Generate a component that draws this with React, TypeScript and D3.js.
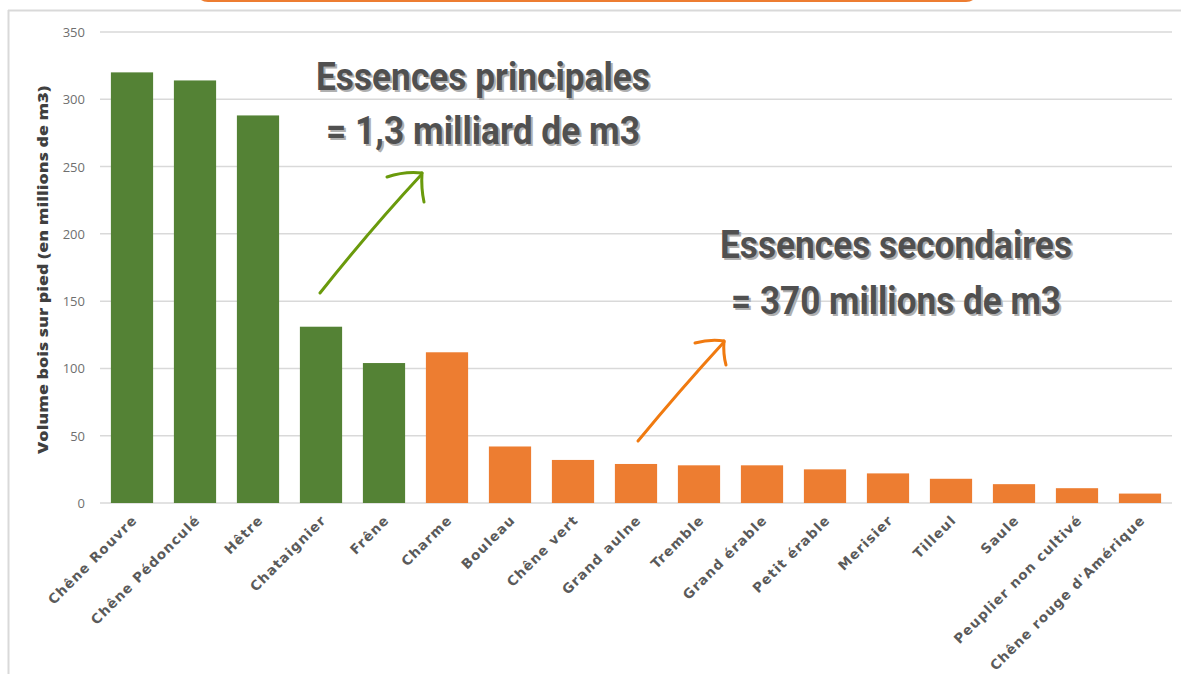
import React from "react";
import * as d3 from "d3";

const categories = [
  "Chêne Rouvre", "Chêne Pédonculé", "Hêtre", "Chataignier", "Frêne",
  "Charme", "Bouleau", "Chêne vert", "Grand aulne", "Tremble", "Grand érable",
  "Petit érable", "Merisier", "Tilleul", "Saule", "Peuplier non cultivé",
  "Chêne rouge d'Amérique",
];
const volumes = [320, 314, 288, 131, 104, 112, 42, 32, 29, 28, 28, 25, 22, 18, 14, 11, 7];
const groups = ["p", "p", "p", "p", "p", "s", "s", "s", "s", "s", "s", "s", "s", "s", "s", "s", "s"];
const yTicks = [0, 50, 100, 150, 200, 250, 300, 350];
const yTitle = "Volume bois sur pied (en millions de m3)";
const principalLines = ["Essences principales", "= 1,3 milliard de m3"];
const secondaryLines = ["Essences secondaires", "= 370 millions de m3"];

const W = 1181, H = 674;
const GREEN = "#548235";
const ORANGE = "#ed7d31";

export default function App() {
  const x = d3.scaleBand<string>().domain(categories).range([100.5, 1171.5]).paddingInner(0.33).paddingOuter(0.165);
  const y = d3.scaleLinear().domain([0, 350]).range([503, 32]);
  const bw = x.bandwidth();

  const annot = (lines: string[], cx: number, ys: number[], widths: number[], key: string) =>
    lines.map((t, i) => (
      <g key={key + i}>
        <text x={cx + 2} y={ys[i] + 2} textAnchor="middle" fontFamily="Roboto" fontWeight={700} fontSize={38}
          fill="#b0b0b0" textLength={widths[i]} lengthAdjust="spacingAndGlyphs">{t}</text>
        <text x={cx} y={ys[i]} textAnchor="middle" fontFamily="Roboto" fontWeight={700} fontSize={38}
          fill="#505050" textLength={widths[i]} lengthAdjust="spacingAndGlyphs">{t}</text>
      </g>
    ));

  return (
    <svg width={W} height={H} style={{ position: "absolute", left: 0, top: 0, background: "#fff" }}>
      {/* top orange banner edge */}
      <rect x={198} y={-12} width={778} height={14} rx={10} fill={ORANGE} />
      {/* frame */}
      <line x1={8} y1={10.5} x2={W} y2={10.5} stroke="#d9d9d9" strokeWidth={2} />
      <line x1={8.5} y1={10} x2={8.5} y2={H} stroke="#d9d9d9" strokeWidth={2} />

      {/* gridlines */}
      {yTicks.map((t) => (
        <line key={"g" + t} x1={100} x2={1172} y1={y(t)} y2={y(t)} stroke="#d9d9d9" strokeWidth={1.5} />
      ))}
      {yTicks.map((t) => (
        <text key={"yt" + t} x={85} y={y(t) + 5} textAnchor="end" fontFamily="Open Sans" fontSize={13} fill="#6f6f6f">{t}</text>
      ))}
      <text transform={`translate(48,270) rotate(-90)`} textAnchor="middle" fontFamily="Open Sans" fontWeight={800}
        fontSize={14.5} fill="#404040" textLength={368} lengthAdjust="spacingAndGlyphs">{yTitle}</text>

      {/* bars */}
      {categories.map((c, i) => (
        <rect key={c} x={x(c)!} y={y(volumes[i])} width={bw} height={y(0) - y(volumes[i])}
          fill={groups[i] === "p" ? GREEN : ORANGE} />
      ))}

      {/* x labels */}
      {categories.map((c) => {
        const cx = x(c)! + bw / 2 + 6;
        return (
          <text key={"xl" + c} transform={`translate(${cx},521) rotate(-45)`} textAnchor="end"
            fontFamily="DejaVu Sans" fontWeight={700} fontSize={13.5} letterSpacing={1.1} fill="#5a5a5a">{c}</text>
        );
      })}

      {/* annotations */}
      {annot(principalLines, 483, [90, 144], [334, 314], "p")}
      {annot(secondaryLines, 896, [258, 314], [352, 330], "s")}

      {/* arrows */}
      <g fill="none" stroke="#6a9a0c" strokeWidth={3} strokeLinecap="round">
        <path d="M320,293 Q370,230 421,175" />
        <path d="M387,177 Q405,171 422,173" />
        <path d="M422,173 Q421,188 424,202" />
      </g>
      <g fill="none" stroke="#f07a10" strokeWidth={3} strokeLinecap="round">
        <path d="M638,441 Q680,390 724,342" />
        <path d="M695,343 Q710,339 724,341" />
        <path d="M724,341 Q723,354 726,365" />
      </g>
    </svg>
  );
}
